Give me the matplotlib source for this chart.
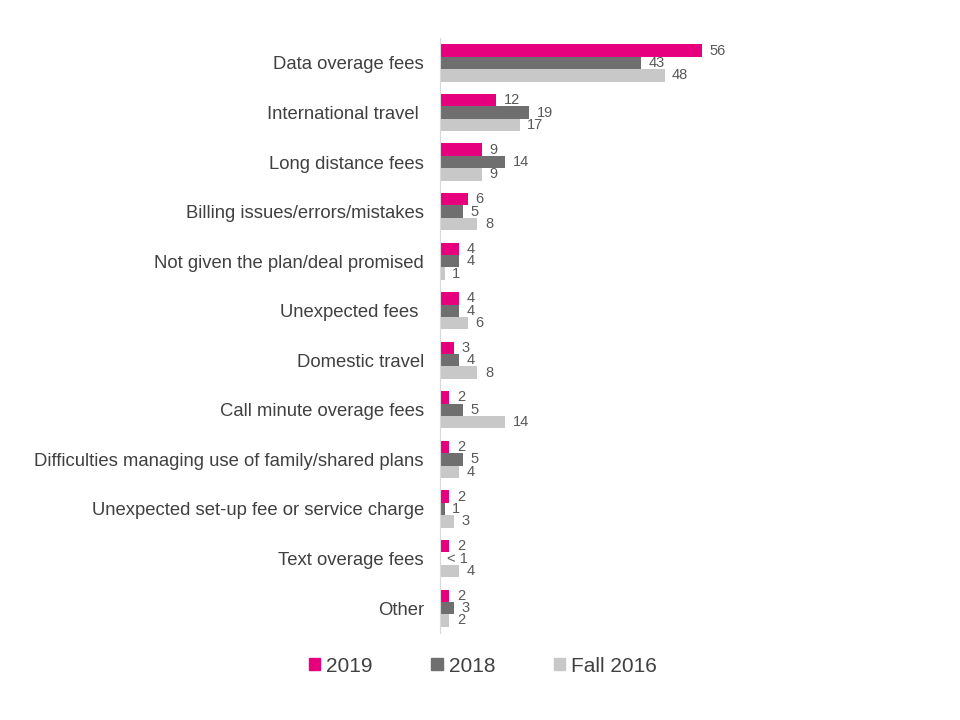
import matplotlib.pyplot as plt
from matplotlib.patches import Patch
import numpy as np

plt.rcParams['font.family'] = ['Liberation Sans', 'DejaVu Sans']

categories = [
    "Data overage fees",
    "International travel ",
    "Long distance fees",
    "Billing issues/errors/mistakes",
    "Not given the plan/deal promised",
    "Unexpected fees ",
    "Domestic travel",
    "Call minute overage fees",
    "Difficulties managing use of family/shared plans",
    "Unexpected set-up fee or service charge",
    "Text overage fees",
    "Other",
]
series_names = ["2019", "2018", "Fall 2016"]
vals_2019 = [56, 12, 9, 6, 4, 4, 3, 2, 2, 2, 2, 2]
vals_2018 = [43, 19, 14, 5, 4, 4, 4, 5, 5, 1, 0, 3]
vals_2016 = [48, 17, 9, 8, 1, 6, 8, 14, 4, 3, 4, 2]
labels_2018 = ["43", "19", "14", "5", "4", "4", "4", "5", "5", "1", "< 1", "3"]

colors = ["#E6007E", "#6F6F6F", "#C8C8C8"]

fig = plt.figure(figsize=(9.6, 7.2), dpi=100)
ax = fig.add_axes([0.4583, 0.121, 0.2925, 0.826])

y = np.arange(len(categories))
h = 0.25
all_vals = [vals_2019, vals_2018, vals_2016]
all_labels = [[str(v) for v in vals_2019], labels_2018, [str(v) for v in vals_2016]]

for k, (vals, labs) in enumerate(zip(all_vals, all_labels)):
    pos = y + (k - 1) * h
    ax.barh(pos, vals, height=h, color=colors[k])
    for p, v, t in zip(pos, vals, labs):
        ax.text(v + 1.6, p, t, va='center', ha='left', fontsize=10.5, color='#595959')

ax.set_xlim(0, 60)
ax.set_ylim(len(categories) - 0.5, -0.5)
ax.set_yticks(y)
ax.set_yticklabels(categories, fontsize=13.3, color='#404040')
ax.tick_params(axis='y', length=0, pad=11.5)
ax.set_xticks([])
for s in ['top', 'right', 'bottom']:
    ax.spines[s].set_visible(False)
ax.spines['left'].set_color('#D9D9D9')

handles = [Patch(color=c, label=n) for c, n in zip(colors, series_names)]
fig.legend(handles=handles, loc='center', bbox_to_anchor=(0.503, 0.075), ncol=3,
           frameon=False, fontsize=15, handlelength=0.55, handleheight=0.55,
           handletextpad=0.3, columnspacing=2.8, labelcolor='#404040')

fig.savefig("out.png", dpi=100)
